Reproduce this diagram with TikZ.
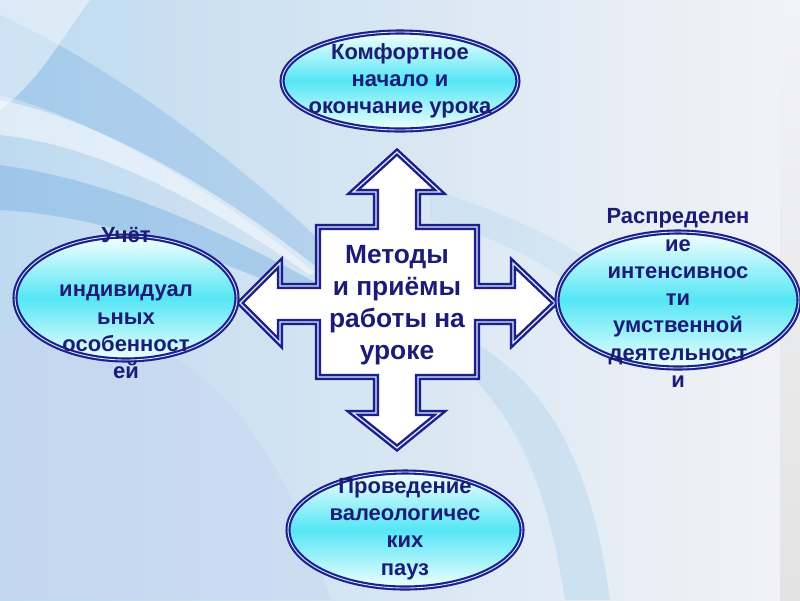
\documentclass[tikz,border=0pt]{standalone}
\usepackage{fontspec}
\setmainfont{Liberation Sans}
\usetikzlibrary{shapes.geometric}

\definecolor{textblue}{RGB}{28,28,118}
\definecolor{lineblue}{RGB}{30,30,140}
\definecolor{ellcyan}{RGB}{85,230,245}
\definecolor{bgblue}{RGB}{190,218,240}
\definecolor{bgdeep}{RGB}{110,170,225}
\definecolor{bggray}{RGB}{242,243,246}
\definecolor{bglav}{RGB}{200,212,240}

\begin{document}
\begin{tikzpicture}[x=0.02cm,y=-0.02cm,
  oval/.style={ellipse,draw=lineblue,line width=1.2pt,double=cyan!20,double distance=0.5pt,
    top color=cyan!4,bottom color=cyan!6,middle color=ellcyan,inner sep=0pt},
  ovaltext/.style={text=textblue,font=\bfseries\fontsize{12.5}{15.5}\selectfont,align=center},
  crossline/.style={draw=lineblue,line width=1.4pt,double=cyan!15,double distance=0.7pt,line join=miter}]
\useasboundingbox (0,0) rectangle (800,600);
\shade[left color=bgblue,right color=bggray] (0,0) rectangle (800,600);
\fill[bglav,opacity=0.45] (0,330) .. controls (120,300) and (260,360) .. (330,600) -- (0,600) -- cycle;
\fill[bgdeep,opacity=0.3] (0,15) .. controls (120,70) and (250,170) .. (345,265) -- (330,285) .. controls (230,200) and (100,120) .. (0,95) -- cycle;
\fill[white,opacity=0.5] (0,100) .. controls (100,120) and (220,190) .. (320,270) -- (310,275) .. controls (210,205) and (100,145) .. (0,135) -- cycle;
\fill[bgdeep,opacity=0.4] (0,165) .. controls (110,180) and (220,230) .. (320,285) -- (310,300) .. controls (210,255) and (100,215) .. (0,210) -- cycle;
\fill[white,opacity=0.45] (0,0) -- (90,0) .. controls (60,40) and (40,80) .. (0,110) -- cycle;
\fill[bgblue,opacity=0.6] (470,340) .. controls (540,380) and (590,450) .. (610,600) -- (565,600) .. controls (545,470) and (510,410) .. (455,360) -- cycle;
\fill[bgblue,opacity=0.4] (430,190) .. controls (500,210) and (550,235) .. (590,260) -- (565,280) .. controls (530,255) and (490,235) .. (430,220) -- cycle;
\shade[top color=bggray,bottom color=gray!22] (780,0) rectangle (800,600);

\path[crossline,fill=white] (397,152) -- (440,192) -- (418,192) -- (418,227) -- (477,227) -- (477,286)
  -- (513,286) -- (513,263) -- (555,303) -- (513,343) -- (513,322) -- (477,322) -- (477,377)
  -- (418,377) -- (418,413) -- (440,413) -- (397,448) -- (353,413) -- (376,413) -- (376,377)
  -- (318,377) -- (318,322) -- (280,322) -- (280,343) -- (240,303) -- (280,263) -- (280,286)
  -- (318,286) -- (318,227) -- (376,227) -- (376,192) -- (353,192) -- cycle;

\node[text=textblue,font=\bfseries\fontsize{15}{18.2}\selectfont,align=center] (methods) at (397,305)
  {Методы\\ и приёмы\\работы на\\уроке};

\node[oval,minimum width=4.72cm,minimum height=1.96cm] (comfort) at (400,81) {};
\node[oval,minimum width=4.44cm,minimum height=2.48cm] (individ) at (126,298) {};
\node[oval,minimum width=4.84cm,minimum height=2.72cm] (intens) at (678,300) {};
\node[oval,minimum width=4.68cm,minimum height=2.32cm] (pauses) at (405,530) {};

\node[ovaltext] (comforttext) at (comfort.center) {Комфортное\\начало и\\окончание урока};
\node[ovaltext] (individtext) at ([yshift=-0.1cm]individ.center) {Учёт\\~\\индивидуал\\ьных\\особенност\\ей};
\node[ovaltext] (intenstext) at ([yshift=0.04cm]intens.center) {Распределен\\ие\\интенсивнос\\ти\\умственной\\деятельност\\и};
\node[ovaltext] (pausestext) at ([yshift=0.02cm]pauses.center) {Проведение\\валеологичес\\ких\\пауз};
\end{tikzpicture}
\end{document}
